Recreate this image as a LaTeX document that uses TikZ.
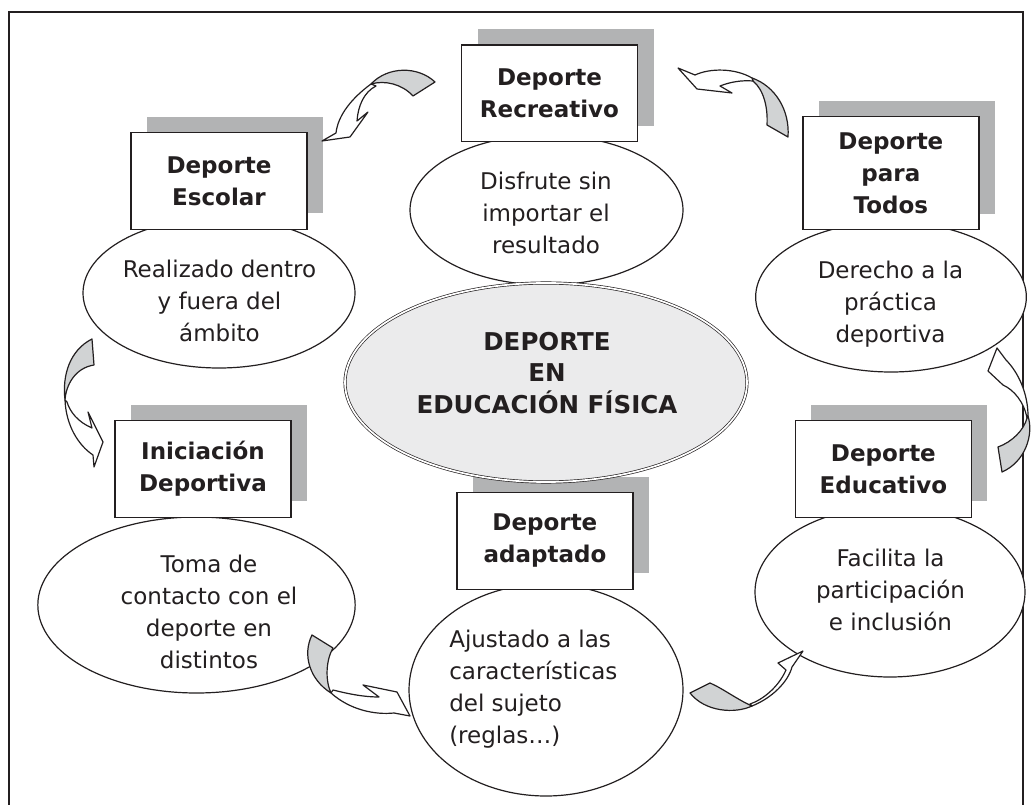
\documentclass[tikz,border=0pt]{standalone}
\usepackage{fontspec}
\setmainfont{DejaVu Sans}
\usetikzlibrary{shapes.geometric,shadows}
\definecolor{ink}{HTML}{231F20}
\definecolor{shadowgray}{HTML}{B2B3B4}
\definecolor{backgray}{HTML}{D1D3D4}
\definecolor{centerfill}{HTML}{EBEBEC}
\begin{document}
\begin{tikzpicture}[x=0.75pt,y=-0.75pt,
  frameline/.style={draw=ink, line width=1.1pt},
  titlebox/.style={draw=ink, fill=white, line width=0.9pt, minimum width=132pt,
    minimum height=72.5pt, inner sep=0pt, align=center, text=ink,
    font=\bfseries\fontsize{17.25pt}{24pt}\selectfont,
    general shadow={fill=shadowgray, draw=none, shadow xshift=12pt, shadow yshift=12pt}},
  bubble/.style={ellipse, draw=ink, fill=white, line width=0.9pt, inner sep=0pt},
  bubbletext/.style={align=center, inner sep=0pt, text=ink,
    font=\fontsize{17.25pt}{24pt}\selectfont},
  core/.style={ellipse, draw=ink, fill=centerfill, line width=0.5pt, double=white,
    double distance=1.3pt, inner sep=0pt},
  coretext/.style={align=center, inner sep=0pt, text=ink,
    font=\bfseries\fontsize{18.4pt}{23.8pt}\selectfont},
  arrowface/.style={fill=white, draw=ink, line width=0.9pt, line join=round},
  arrowback/.style={fill=backgray, draw=ink, line width=0.9pt, line join=round}]
\useasboundingbox (0,0) rectangle (1032,805);
\draw[frameline] (9,12) rectangle (1023,840);

% ellipses
\node[bubble, minimum width=204.75pt, minimum height=112.5pt] (recE) at (546.5,210) {};
\node[bubble, minimum width=204pt, minimum height=112.5pt] (escE) at (219,293) {};
\node[bubble, minimum width=203pt, minimum height=112.5pt] (todE) at (891,297) {};
\node[bubble, minimum width=238pt, minimum height=132pt] (iniE) at (196.5,605) {};
\node[bubble, minimum width=205.5pt, minimum height=159pt] (adaE) at (546,690) {};
\node[bubble, minimum width=202.5pt, minimum height=127.5pt] (eduE) at (890,592) {};

% title boxes
\node[titlebox] (recB) at (549.5,93.4) {Deporte\\Recreativo};
\node[titlebox] (escB) at (219,180.9) {Deporte\\Escolar};
\node[titlebox, minimum height=84.75pt] (todB) at (890.9,173.4) {Deporte\\para\\Todos};
\node[titlebox] (iniB) at (203,468.9) {Iniciación\\Deportiva};
\node[titlebox] (adaB) at (544.9,540.9) {Deporte\\adaptado};
\node[titlebox] (eduB) at (883.4,468.9) {Deporte\\Educativo};

% centre
\node[core, minimum width=301.5pt, minimum height=149.25pt] (core) at (546,382.5) {};
\node[coretext] (coreT) at (547,373) {DEPORTE\\EN\\EDUCACIÓN FÍSICA};

% ellipse texts
\node[bubbletext] (recT) at (546,213.3) {Disfrute sin\\importar el\\resultado};
\node[bubbletext] (escT) at (219.5,301.3) {Realizado dentro\\y fuera del\\ámbito};
\node[bubbletext] (todT) at (890.5,304) {Derecho a la\\práctica\\deportiva};
\node[bubbletext] (iniT) at (209,612.3) {Toma de\\contacto con el\\deporte en\\distintos};
\node[bubbletext, align=left, anchor=west] (adaT) at (449,688.7) {Ajustado a las\\características\\del sujeto\\(reglas…)};
\node[bubbletext] (eduT) at (890.5,590) {Facilita la\\participación\\e inclusión};

% curved block arrows
% 1: Recreativo -> Escolar
\filldraw[arrowback] (435,82) .. controls (418,66) and (388,66) .. (371,84)
  .. controls (385,80) and (402,84) .. (413,96) -- cycle;
\filldraw[arrowface] (371,84) .. controls (352,98) and (338,115) .. (336,133)
  -- (322,141) -- (350,137) -- (368,112) -- (357,121)
  .. controls (358,106) and (364,92) .. (376,86) -- cycle;
% 2: Todos -> Recreativo
\filldraw[arrowback] (752,78) .. controls (775,86) and (790,110) .. (788,137)
  -- (767,125) .. controls (768,108) and (764,90) .. (753,81) -- cycle;
\filldraw[arrowface] (752,78) .. controls (735,68) and (710,68) .. (695,75)
  -- (678,68) -- (697,89) -- (732,93) -- (720,86)
  .. controls (730,82) and (742,80) .. (753,81) -- cycle;
% 3: Escolar -> Iniciacion
\filldraw[arrowback] (92,339) .. controls (70,350) and (62,375) .. (65,400)
  .. controls (66,385) and (75,368) .. (94,365) -- cycle;
\filldraw[arrowface] (65,400) .. controls (66,425) and (78,445) .. (93,455)
  -- (94,467) -- (103,442) -- (88,412) -- (92,428)
  .. controls (78,422) and (70,412) .. (67,402) -- cycle;
% 4: Educativo -> Todos
\filldraw[arrowback] (1028,416) .. controls (1034,435) and (1025,462) .. (1002,472)
  -- (998,447) .. controls (1012,442) and (1024,430) .. (1027,418) -- cycle;
\filldraw[arrowface] (1028,416) .. controls (1028,393) and (1018,372) .. (1006,360)
  -- (997,348) -- (988,371) -- (1003,385)
  .. controls (1014,390) and (1024,402) .. (1027,418) -- cycle;
% 5: Iniciacion -> Adaptado
\filldraw[arrowback] (312,635) .. controls (302,655) and (310,680) .. (331,693)
  .. controls (325,680) and (326,660) .. (333,648) -- cycle;
\filldraw[arrowface] (331,693) .. controls (350,710) and (375,715) .. (394,713)
  -- (410,716) -- (397,692) -- (363,685) -- (379,697)
  .. controls (362,697) and (345,693) .. (333,690) -- cycle;
% 6: Adaptado -> Educativo
\filldraw[arrowback] (690,693) .. controls (705,712) and (735,714) .. (752,706)
  .. controls (738,700) and (722,688) .. (710,683) -- cycle;
\filldraw[arrowface] (752,706) .. controls (772,698) and (788,682) .. (792,667)
  -- (803,651) -- (778,663) -- (786,670)
  .. controls (778,688) and (762,700) .. (750,704) -- cycle;
\end{tikzpicture}
\end{document}
